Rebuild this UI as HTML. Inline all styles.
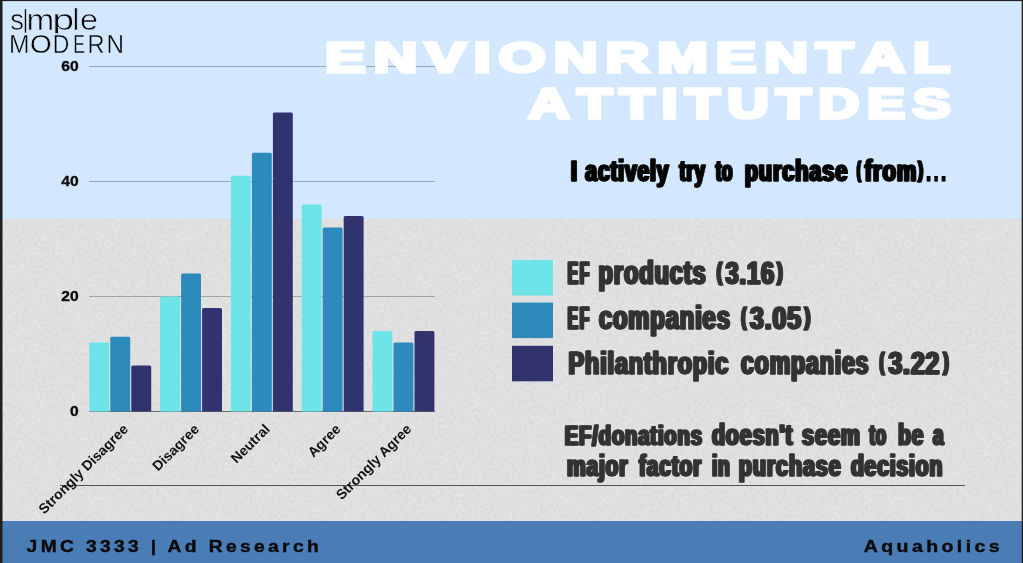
<!DOCTYPE html>
<html lang="en">
<head>
<meta charset="utf-8">
<title>Environmental Attitudes</title>
<style>
html,body{margin:0;padding:0;background:#1f1f1f;overflow:hidden}
svg{display:block}
text{font-family:"Liberation Sans",Arial,sans-serif}
.ax{font-size:13.8px;font-weight:700;fill:#0c0c0c;stroke:#0c0c0c;stroke-width:0.35px}
.cat{font-size:14px;font-weight:700;fill:#111}
.title{font-size:42px;font-weight:700;fill:#ffffff;stroke:#ffffff;stroke-width:3.5px;stroke-linejoin:miter;letter-spacing:5.5px;font-kerning:none}
.sub{font-weight:700;fill:#050505;stroke:#050505;stroke-width:1px;stroke-linejoin:miter;letter-spacing:1.2px;filter:url(#fat)}
.leg{font-weight:700;fill:#333333;stroke:#333333;stroke-width:1px;stroke-linejoin:miter;letter-spacing:1.2px;filter:url(#fat)}
.con{font-weight:700;fill:#333333;stroke:#333333;stroke-width:1px;stroke-linejoin:miter;letter-spacing:1.2px;filter:url(#fat)}
.foot{font-size:16.6px;font-weight:700;fill:#0a0a0a;stroke:#0a0a0a;stroke-width:0.4px;letter-spacing:2.9px}
.logo1{fill:#000;stroke:#d3e8fe;stroke-width:0.65px;font-kerning:none}
.logo2{fill:#000;stroke:#d3e8fe;stroke-width:0.4px;font-kerning:none}
</style>
</head>
<body>
<svg width="1023" height="563" viewBox="0 0 1023 563">
<defs>
<filter id="fat" x="-2%" y="-30%" width="104%" height="160%" color-interpolation-filters="sRGB">
<feOffset in="SourceGraphic" dx="1.1" dy="0" result="a"/>
<feOffset in="SourceGraphic" dx="-1.1" dy="0" result="b"/>
<feMerge><feMergeNode in="a"/><feMergeNode in="b"/><feMergeNode in="SourceGraphic"/></feMerge>
</filter>
<filter id="grain" x="0" y="0" width="100%" height="100%" color-interpolation-filters="sRGB">
<feTurbulence type="fractalNoise" baseFrequency="0.32" numOctaves="1" seed="7" result="n"/>
<feColorMatrix in="n" type="matrix" values="0 0 0 0 0  0 0 0 0 0  0 0 0 0 0  0.085 0 0 0 -0.027"/>
</filter>
<clipPath id="lc"><rect x="0" y="0" width="140" height="33.2"/></clipPath>
</defs>
<rect x="0" y="0" width="1023" height="563" fill="#1f1f1f"/>
<g opacity="0.999">
<rect x="2.5" y="1.1" width="1019.2" height="217.9" fill="#d3e8fe"/>
<rect x="2.5" y="219" width="1019.2" height="302" fill="#e3e3e3"/>
<rect x="2.5" y="219" width="1019.2" height="302" fill="#000" filter="url(#grain)"/>
<rect x="2.5" y="521" width="1019.2" height="42" fill="#4a7cb5"/>

<!-- long rule -->
<line x1="60" x2="965" y1="485.5" y2="485.5" stroke="#555" stroke-width="1"/>

<!-- chart -->
<line x1="89" x2="435" y1="66.5" y2="66.5" stroke="#182848" stroke-opacity="0.33" stroke-width="1"/>
<line x1="89" x2="435" y1="181.5" y2="181.5" stroke="#182848" stroke-opacity="0.33" stroke-width="1"/>
<line x1="89" x2="435" y1="296.5" y2="296.5" stroke="#182848" stroke-opacity="0.33" stroke-width="1"/>
<line x1="89" x2="435" y1="411.5" y2="411.5" stroke="#444" stroke-opacity="0.75" stroke-width="1"/>

<path d="M89.3 411.5V344.0q0 -1.5 1.5 -1.5H107.7q1.5 0 1.5 1.5V411.5Z" fill="#6de5e8"/>
<path d="M110.3 411.5V338.2q0 -1.5 1.5 -1.5H128.7q1.5 0 1.5 1.5V411.5Z" fill="#2c8abd"/>
<path d="M131.3 411.5V367.0q0 -1.5 1.5 -1.5H149.7q1.5 0 1.5 1.5V411.5Z" fill="#30336e"/>
<path d="M160.1 411.5V298.0q0 -1.5 1.5 -1.5H178.5q1.5 0 1.5 1.5V411.5Z" fill="#6de5e8"/>
<path d="M181.1 411.5V275.0q0 -1.5 1.5 -1.5H199.5q1.5 0 1.5 1.5V411.5Z" fill="#2c8abd"/>
<path d="M202.1 411.5V309.5q0 -1.5 1.5 -1.5H220.5q1.5 0 1.5 1.5V411.5Z" fill="#30336e"/>
<path d="M230.9 411.5V177.2q0 -1.5 1.5 -1.5H249.3q1.5 0 1.5 1.5V411.5Z" fill="#6de5e8"/>
<path d="M251.9 411.5V154.2q0 -1.5 1.5 -1.5H270.3q1.5 0 1.5 1.5V411.5Z" fill="#2c8abd"/>
<path d="M272.9 411.5V114.0q0 -1.5 1.5 -1.5H291.3q1.5 0 1.5 1.5V411.5Z" fill="#30336e"/>
<path d="M301.7 411.5V206.0q0 -1.5 1.5 -1.5H320.1q1.5 0 1.5 1.5V411.5Z" fill="#6de5e8"/>
<path d="M322.7 411.5V229.0q0 -1.5 1.5 -1.5H341.1q1.5 0 1.5 1.5V411.5Z" fill="#2c8abd"/>
<path d="M343.7 411.5V217.5q0 -1.5 1.5 -1.5H362.1q1.5 0 1.5 1.5V411.5Z" fill="#30336e"/>
<path d="M372.5 411.5V332.5q0 -1.5 1.5 -1.5H390.9q1.5 0 1.5 1.5V411.5Z" fill="#6de5e8"/>
<path d="M393.5 411.5V344.0q0 -1.5 1.5 -1.5H411.9q1.5 0 1.5 1.5V411.5Z" fill="#2c8abd"/>
<path d="M414.5 411.5V332.5q0 -1.5 1.5 -1.5H432.9q1.5 0 1.5 1.5V411.5Z" fill="#30336e"/>
<text x="78.6" y="71.4" text-anchor="end" class="ax" textLength="17.4" lengthAdjust="spacingAndGlyphs">60</text>
<text x="78.6" y="186.4" text-anchor="end" class="ax" textLength="17.4" lengthAdjust="spacingAndGlyphs">40</text>
<text x="78.6" y="301.4" text-anchor="end" class="ax" textLength="17.4" lengthAdjust="spacingAndGlyphs">20</text>
<text x="78.6" y="416.4" text-anchor="end" class="ax" textLength="8.7" lengthAdjust="spacingAndGlyphs">0</text>

<text transform="translate(129.1 430) rotate(-45)" text-anchor="end" class="cat">Strongly Disagree</text>
<text transform="translate(199.9 430) rotate(-45)" text-anchor="end" class="cat">Disagree</text>
<text transform="translate(270.7 430) rotate(-45)" text-anchor="end" class="cat">Neutral</text>
<text transform="translate(341.5 430) rotate(-45)" text-anchor="end" class="cat">Agree</text>
<text transform="translate(412.3 430) rotate(-45)" text-anchor="end" class="cat">Strongly Agree</text>


<!-- title -->
<text x="325" y="72" class="title" textLength="633" lengthAdjust="spacingAndGlyphs">ENVIONRMENTAL</text>
<text x="528.5" y="117.8" class="title" textLength="429.5" lengthAdjust="spacingAndGlyphs">ATTITUTDES</text>

<!-- subtitle -->
<text class="sub"><tspan x="570.83" y="181.00" font-size="28.6" textLength="7.41" lengthAdjust="spacingAndGlyphs">I</tspan> <tspan x="585.35" y="181.00" font-size="30.2" textLength="84.02" lengthAdjust="spacingAndGlyphs">actively</tspan> <tspan x="679.50" y="181.00" font-size="30.2" textLength="26.29" lengthAdjust="spacingAndGlyphs">try</tspan> <tspan x="715.74" y="181.00" font-size="30.2" textLength="17.52" lengthAdjust="spacingAndGlyphs">to</tspan> <tspan x="744.63" y="181.00" font-size="30.2" textLength="103.45" lengthAdjust="spacingAndGlyphs">purchase</tspan> <tspan x="857.10" y="177.00" font-size="22.3" textLength="4.28" lengthAdjust="spacingAndGlyphs">(</tspan><tspan x="864.77" y="181.00" font-size="30.2" textLength="52.47" lengthAdjust="spacingAndGlyphs">from</tspan><tspan x="918.22" y="177.00" font-size="22.3" textLength="5.45" lengthAdjust="spacingAndGlyphs">)</tspan><tspan x="927.25" y="181.00" font-size="28.6" letter-spacing="14" textLength="22.35" lengthAdjust="spacingAndGlyphs">...</tspan></text>

<!-- legend -->
<rect x="512" y="260" width="41" height="35.5" fill="#6de5e8"/>
<rect x="512" y="302.6" width="41" height="35.5" fill="#2c8abd"/>
<rect x="512" y="345.8" width="41" height="35.5" fill="#30336e"/>
<text class="leg"><tspan x="567.85" y="283.80" font-size="31.4" letter-spacing="3" textLength="22.72" lengthAdjust="spacingAndGlyphs">EF</tspan> <tspan x="598.52" y="283.80" font-size="33.2" textLength="108.11" lengthAdjust="spacingAndGlyphs">products</tspan> <tspan x="716.72" y="279.50" font-size="24.0" textLength="6.20" lengthAdjust="spacingAndGlyphs">(</tspan><tspan x="725.47" y="283.80" font-size="31.4" textLength="49.42" lengthAdjust="spacingAndGlyphs">3.16</tspan><tspan x="777.10" y="279.50" font-size="24.0" textLength="6.58" lengthAdjust="spacingAndGlyphs">)</tspan></text>
<text class="leg"><tspan x="567.85" y="329.10" font-size="31.4" letter-spacing="3" textLength="22.72" lengthAdjust="spacingAndGlyphs">EF</tspan> <tspan x="598.93" y="329.10" font-size="33.2" textLength="131.82" lengthAdjust="spacingAndGlyphs">companies</tspan> <tspan x="741.36" y="324.80" font-size="24.0" textLength="5.83" lengthAdjust="spacingAndGlyphs">(</tspan><tspan x="749.92" y="329.10" font-size="31.4" textLength="52.09" lengthAdjust="spacingAndGlyphs">3.05</tspan><tspan x="804.60" y="324.80" font-size="24.0" textLength="6.63" lengthAdjust="spacingAndGlyphs">)</tspan></text>
<text class="leg"><tspan x="568.54" y="374.40" font-size="32.0" textLength="160.67" lengthAdjust="spacingAndGlyphs">Philanthropic</tspan> <tspan x="741.00" y="374.40" font-size="33.2" textLength="128.31" lengthAdjust="spacingAndGlyphs">companies</tspan> <tspan x="879.48" y="370.10" font-size="24.0" textLength="5.57" lengthAdjust="spacingAndGlyphs">(</tspan><tspan x="888.39" y="374.40" font-size="31.4" textLength="51.91" lengthAdjust="spacingAndGlyphs">3.22</tspan><tspan x="943.36" y="370.10" font-size="24.0" textLength="6.37" lengthAdjust="spacingAndGlyphs">)</tspan></text>

<!-- conclusion -->
<text class="con"><tspan x="564.76" y="444.80" font-size="27.8" textLength="138.05" lengthAdjust="spacingAndGlyphs">EF/donations</tspan> <tspan x="711.90" y="444.80" font-size="28.8" textLength="81.50" lengthAdjust="spacingAndGlyphs">doesn't</tspan> <tspan x="802.12" y="444.80" font-size="28.8" textLength="58.80" lengthAdjust="spacingAndGlyphs">seem</tspan> <tspan x="869.48" y="444.80" font-size="28.8" textLength="17.28" lengthAdjust="spacingAndGlyphs">to</tspan> <tspan x="898.31" y="444.80" font-size="28.8" textLength="25.74" lengthAdjust="spacingAndGlyphs">be</tspan> <tspan x="933.10" y="444.80" font-size="28.8" textLength="11.30" lengthAdjust="spacingAndGlyphs">a</tspan></text>
<text class="con"><tspan x="566.98" y="476.20" font-size="28.8" textLength="61.30" lengthAdjust="spacingAndGlyphs">major</tspan> <tspan x="639.09" y="476.20" font-size="28.8" textLength="62.90" lengthAdjust="spacingAndGlyphs">factor</tspan> <tspan x="711.88" y="476.20" font-size="28.8" textLength="18.72" lengthAdjust="spacingAndGlyphs">in</tspan> <tspan x="738.82" y="476.20" font-size="28.8" textLength="102.71" lengthAdjust="spacingAndGlyphs">purchase</tspan> <tspan x="850.88" y="476.20" font-size="28.8" textLength="92.38" lengthAdjust="spacingAndGlyphs">decision</tspan></text>

<!-- logo -->
<text class="logo1" clip-path="url(#lc)"><tspan x="10.14" y="30.30" font-size="30.3" textLength="13.76" lengthAdjust="spacingAndGlyphs">s</tspan><tspan x="22.11" y="27.90" font-size="26.2">|</tspan><tspan x="26.62" y="30.30" font-size="30.3" textLength="27.73" lengthAdjust="spacingAndGlyphs">m</tspan><tspan x="52.17" y="30.30" font-size="30.3" textLength="22.09" lengthAdjust="spacingAndGlyphs">p</tspan><tspan x="72.40" y="30.30" font-size="30.3">l</tspan><tspan x="80.14" y="30.30" font-size="30.3" textLength="18.03" lengthAdjust="spacingAndGlyphs">e</tspan></text>
<text class="logo2"><tspan x="9.08" y="53.20" font-size="25.2" textLength="20.50" lengthAdjust="spacingAndGlyphs">M</tspan><tspan x="30.14" y="53.20" font-size="25.2" textLength="21.67" lengthAdjust="spacingAndGlyphs">O</tspan><tspan x="52.84" y="53.20" font-size="25.2" textLength="16.61" lengthAdjust="spacingAndGlyphs">D</tspan><tspan x="73.15" y="53.20" font-size="25.2" textLength="11.74" lengthAdjust="spacingAndGlyphs">E</tspan><tspan x="87.61" y="53.20" font-size="25.2" textLength="17.04" lengthAdjust="spacingAndGlyphs">R</tspan><tspan x="106.44" y="53.20" font-size="25.2" textLength="17.51" lengthAdjust="spacingAndGlyphs">N</tspan></text>

<!-- footer -->
<text x="26.6" y="551.6" class="foot" textLength="295.5" lengthAdjust="spacingAndGlyphs">JMC 3333 | Ad Research</text>
<text x="863.8" y="552" class="foot" textLength="139.2" lengthAdjust="spacingAndGlyphs">Aquaholics</text>
</g>
</svg>
</body>
</html>
